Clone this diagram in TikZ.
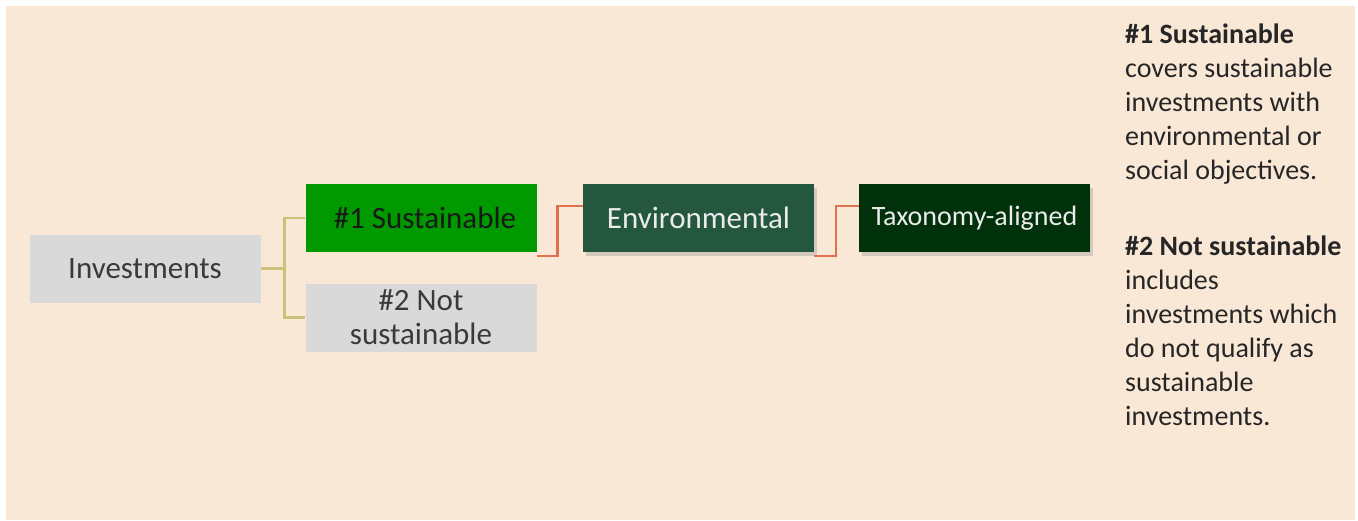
\documentclass[tikz,border=0pt]{standalone}
\usepackage{fontspec}
\setmainfont{Carlito}
\usepackage{xcolor}
\usetikzlibrary{positioning,calc,shadows}

\definecolor{bgpeach}{HTML}{FAE8D7}
\definecolor{boxgray}{HTML}{D9D9D9}
\definecolor{susgreen}{HTML}{009A00}
\definecolor{envgreen}{HTML}{25573E}
\definecolor{taxgreen}{HTML}{00310A}
\definecolor{oliveline}{HTML}{CEC27A}
\definecolor{redline}{HTML}{E0714F}
\definecolor{inkgray}{HTML}{3A3A3A}

\begin{document}
\begin{tikzpicture}[x=1pt, y=-1pt,
    box/.style={rectangle, minimum width=231, minimum height=68, align=center, inner sep=2pt,
        font=\fontsize{31}{34}\selectfont},
    graybox/.style={box, fill=boxgray, text=inkgray},
    darkbox/.style={box, text=white!92!black,
        drop shadow={opacity=0.3, shadow xshift=3pt, shadow yshift=-4pt}},
    treeline/.style={oliveline, line width=2.5pt},
    linkline/.style={redline, line width=2.5pt},
    note/.style={anchor=north west, inner sep=0pt, align=left,
        text=black!85, font=\fontsize{28}{34}\selectfont}
]

% Background
\useasboundingbox (0,0) rectangle (1358,520);
\fill[bgpeach] (6,6) rectangle (1355,520);

% Boxes
\node[graybox] (inv) at (145,268.5) {Investments};
\node[box, fill=susgreen, text=black!90] (sust) at (421,218) {\hspace*{8pt}\#1 Sustainable};
\node[graybox] (notsust) at (421,317.5) {\#2 Not\\sustainable};
\node[darkbox, fill=envgreen] (env) at (698.5,218) {Environmental};
\node[darkbox, fill=taxgreen, font=\fontsize{28}{34}\selectfont] (tax) at (974.5,218) {Taxonomy-aligned};

% Connectors
\draw[treeline] (inv.east) -- ++(24,0) |- (sust.west);
\draw[treeline] (inv.east) -- ++(24,0) |- (notsust.west);
\draw[linkline] ([yshift=-4pt]sust.south east) -- ++(21,0) |- ([yshift=12pt]env.west);
\draw[linkline] ([yshift=-4pt]env.south east) -- ++(22,0) |- ([yshift=12pt]tax.west);

% Notes
\node[note] (note1) at (1125,24) {\textbf{\#1 Sustainable}\\covers sustainable\\investments with\\environmental or\\social objectives.};
\node[note] (note2) at (1125,236) {\textbf{\#2 Not sustainable}\\includes\\investments which\\do not qualify as\\sustainable\\investments.};

\end{tikzpicture}
\end{document}
